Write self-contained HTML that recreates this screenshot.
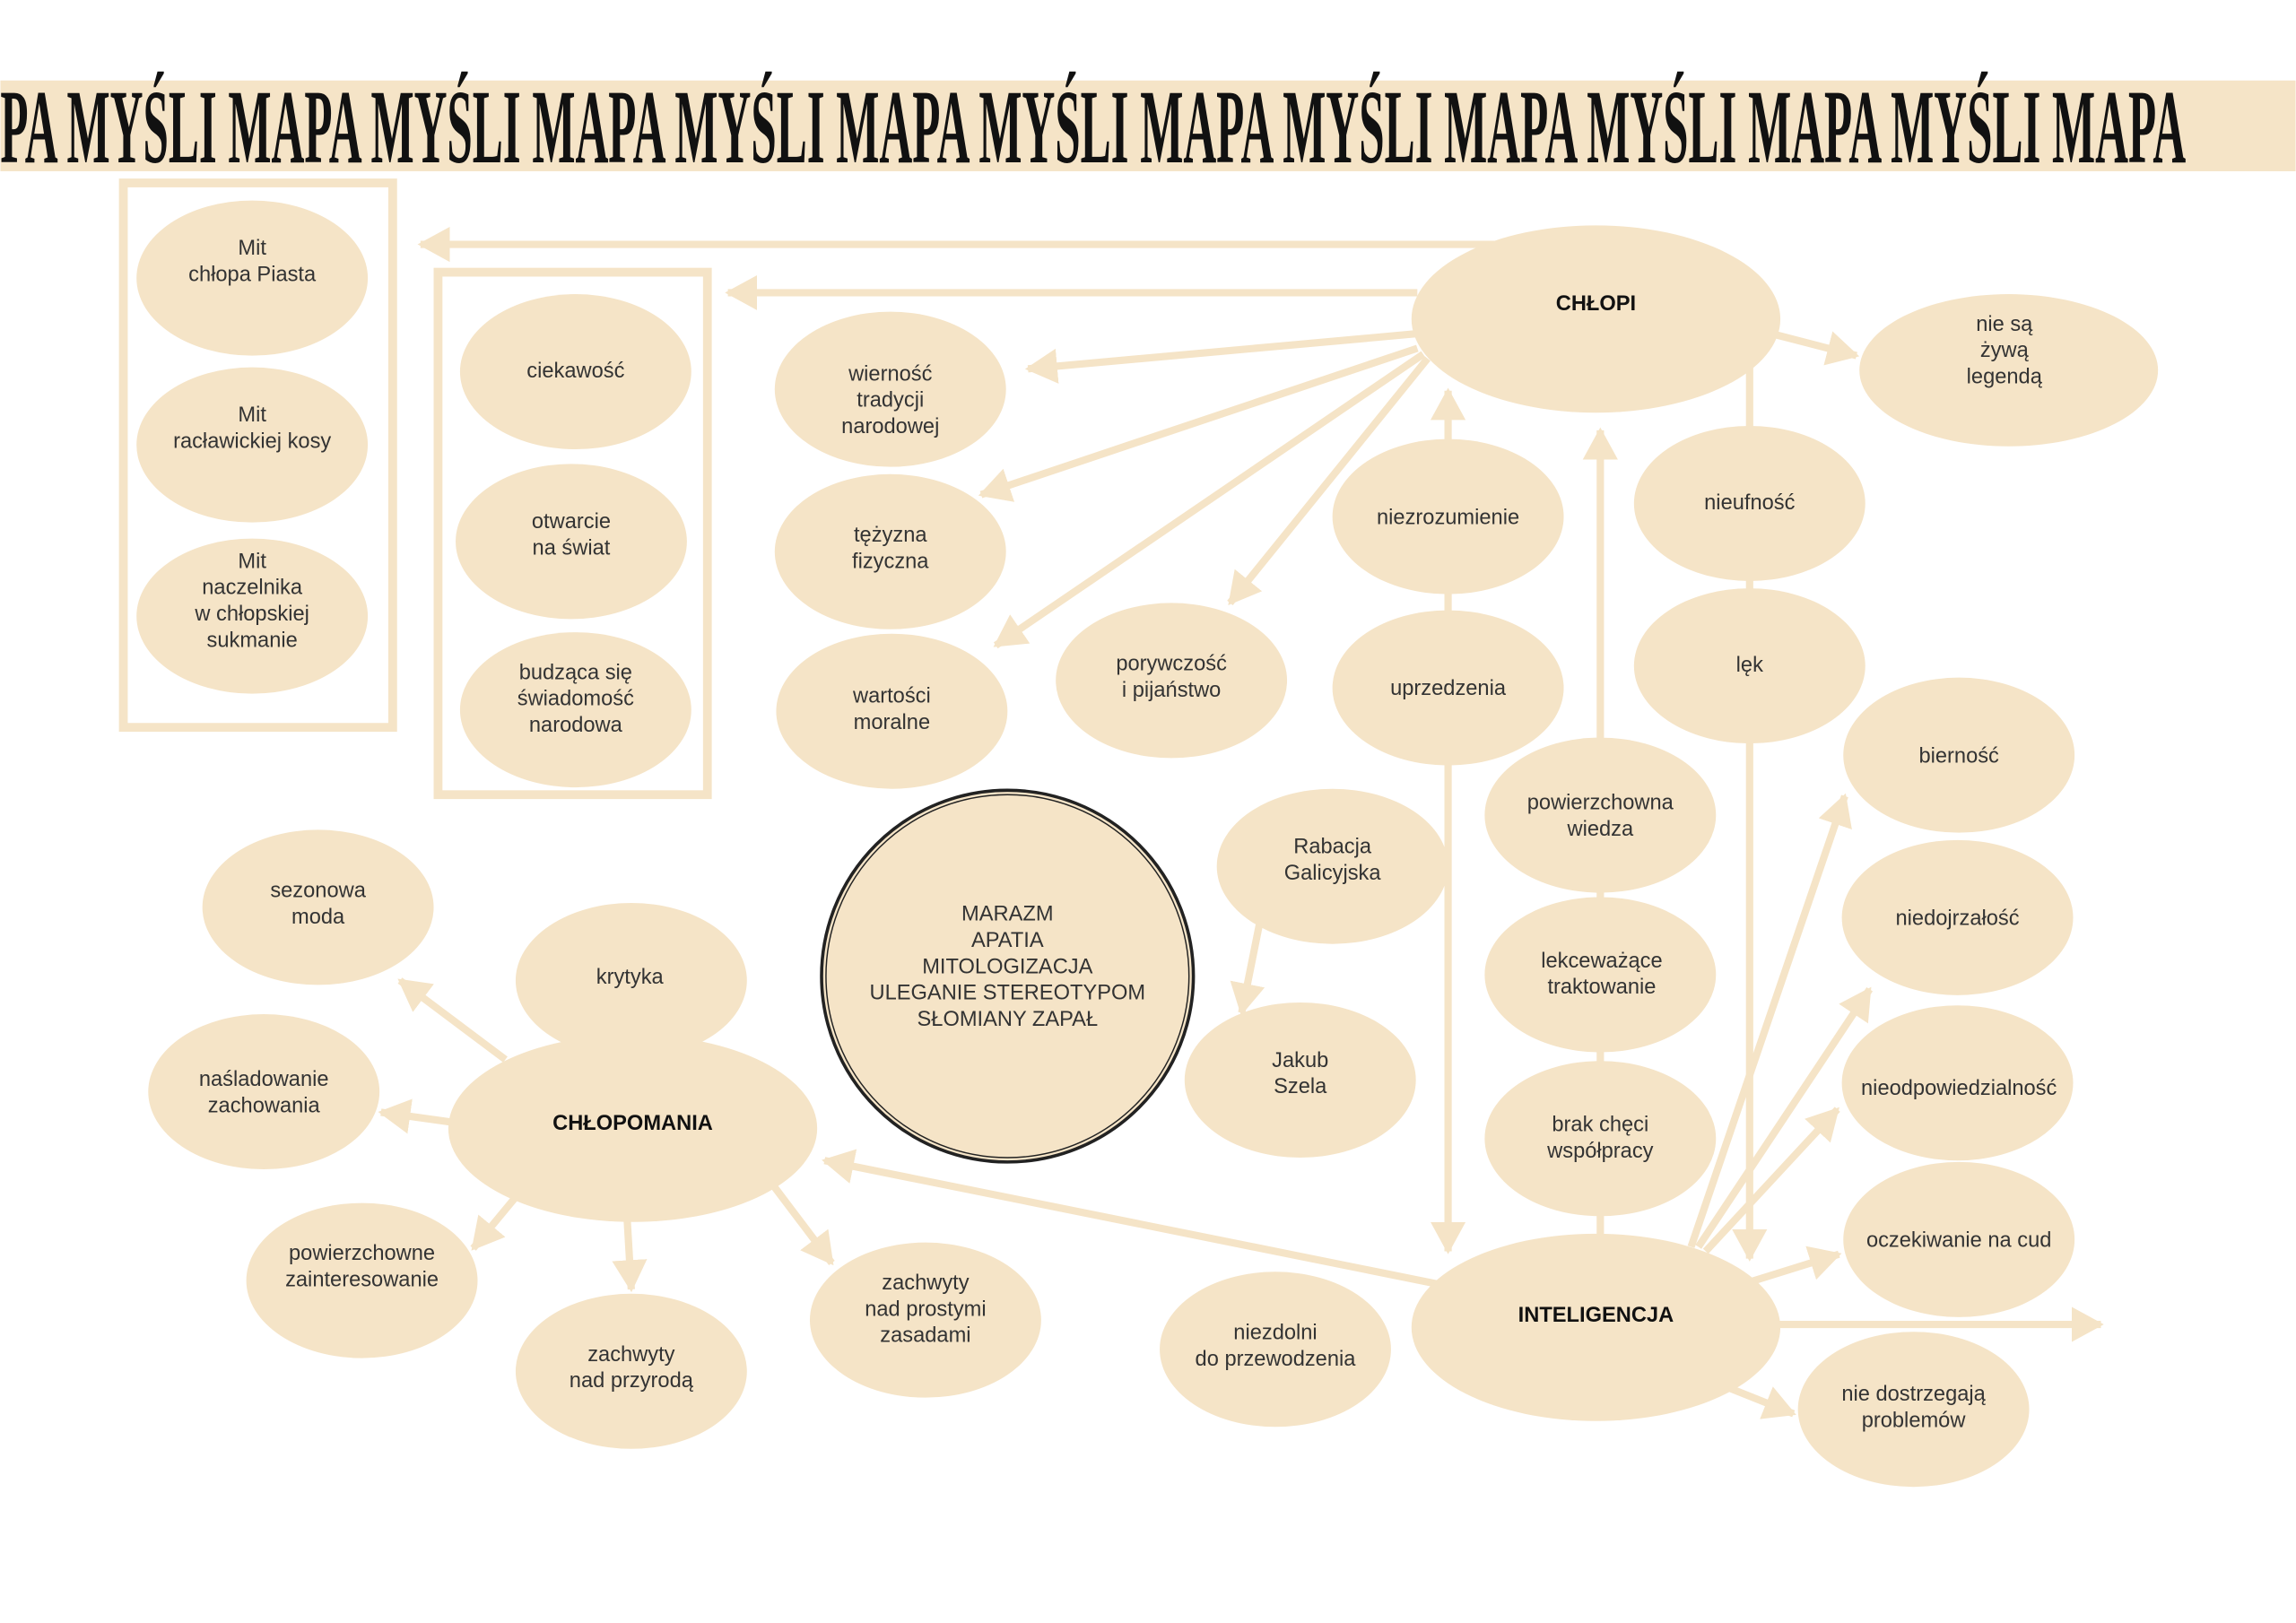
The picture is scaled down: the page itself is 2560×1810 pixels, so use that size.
<!DOCTYPE html>
<html><head><meta charset="utf-8"><style>
html,body{margin:0;padding:0;background:#fff;}
svg{display:block;}
.n{fill:#f5e4c7;}
.t{font-family:"Liberation Sans",sans-serif;font-size:14.5px;fill:#333;text-anchor:middle;}
.b{font-weight:bold;font-size:14.5px;fill:#111;}
.a{stroke:#f5e4c7;stroke-width:5;fill:none;}
</style></head><body>
<svg width="2560" height="1810" viewBox="0 0 1568 1109" xmlns="http://www.w3.org/2000/svg">
<defs>
<marker id="m" markerUnits="userSpaceOnUse" markerWidth="26" markerHeight="26" refX="20" refY="12" orient="auto">
<path d="M0,0 L22,12 L0,24 Z" fill="#f5e4c7"/>
</marker>
</defs>
<rect x="0" y="0" width="1568" height="1109" fill="#fff"/>
<rect x="0" y="55" width="1568" height="62" fill="#f5e4c7"/>
<text x="0" y="111" font-family="Liberation Serif,serif" font-weight="bold" font-size="72" fill="#111" textLength="1493" lengthAdjust="spacingAndGlyphs">PA MYŚLI MAPA MYŚLI MAPA MYŚLI MAPA MYŚLI MAPA MYŚLI MAPA MYŚLI MAPA MYŚLI MAPA</text>

<rect x="84" y="125" width="184" height="372" fill="none" stroke="#f5e4c7" stroke-width="6"/>
<rect x="299" y="186" width="184" height="357" fill="none" stroke="#f5e4c7" stroke-width="6"/>

<g class="a">
<line x1="1025" y1="167" x2="287" y2="167" marker-end="url(#m)"/>
<line x1="968" y1="200" x2="497" y2="200" marker-end="url(#m)"/>
<line x1="968" y1="228" x2="702" y2="252" marker-end="url(#m)"/>
<line x1="968" y1="238" x2="670" y2="338" marker-end="url(#m)"/>
<line x1="975" y1="245" x2="840" y2="412" marker-end="url(#m)"/>
<line x1="972" y1="242" x2="680" y2="441" marker-end="url(#m)"/>
<line x1="1210" y1="228" x2="1268" y2="243" marker-end="url(#m)"/>
<line x1="989" y1="305" x2="989" y2="267" marker-end="url(#m)"/>
<line x1="989" y1="400" x2="989" y2="420"/>
<line x1="989" y1="520" x2="989" y2="855" marker-end="url(#m)"/>
<line x1="1195" y1="250" x2="1195" y2="295"/>
<line x1="1195" y1="395" x2="1195" y2="405"/>
<line x1="1195" y1="505" x2="1195" y2="860" marker-end="url(#m)"/>
<line x1="1093" y1="510" x2="1093" y2="294" marker-end="url(#m)"/>
<line x1="1093" y1="605" x2="1093" y2="615"/>
<line x1="1093" y1="715" x2="1093" y2="728"/>
<line x1="1093" y1="830" x2="1093" y2="848"/>
<line x1="860" y1="632" x2="848" y2="692" marker-end="url(#m)"/>
<line x1="985" y1="878" x2="563" y2="793" marker-end="url(#m)"/>
<line x1="1155" y1="852" x2="1260" y2="544" marker-end="url(#m)"/>
<line x1="1160" y1="852" x2="1277" y2="676" marker-end="url(#m)"/>
<line x1="1165" y1="855" x2="1255" y2="758" marker-end="url(#m)"/>
<line x1="1195" y1="876" x2="1256" y2="857" marker-end="url(#m)"/>
<line x1="1210" y1="905" x2="1435" y2="905" marker-end="url(#m)"/>
<line x1="1180" y1="948" x2="1225" y2="966" marker-end="url(#m)"/>
<line x1="345" y1="724" x2="273" y2="670" marker-end="url(#m)"/>
<line x1="310" y1="767" x2="260" y2="760" marker-end="url(#m)"/>
<line x1="352" y1="818" x2="323" y2="853" marker-end="url(#m)"/>
<line x1="428" y1="830" x2="431" y2="881" marker-end="url(#m)"/>
<line x1="528" y1="810" x2="568" y2="863" marker-end="url(#m)"/>
</g>

<g class="n">
<ellipse cx="172" cy="190" rx="79" ry="53"/>
<ellipse cx="172" cy="304" rx="79" ry="53"/>
<ellipse cx="172" cy="421" rx="79" ry="53"/>
<ellipse cx="393" cy="254" rx="79" ry="53"/>
<ellipse cx="390" cy="370" rx="79" ry="53"/>
<ellipse cx="393" cy="485" rx="79" ry="53"/>
<ellipse cx="608" cy="266" rx="79" ry="53"/>
<ellipse cx="608" cy="377" rx="79" ry="53"/>
<ellipse cx="609" cy="486" rx="79" ry="53"/>
<ellipse cx="800" cy="465" rx="79" ry="53"/>
<ellipse cx="1090" cy="218" rx="126" ry="64"/>
<ellipse cx="1372" cy="253" rx="102" ry="52"/>
<ellipse cx="989" cy="353" rx="79" ry="53"/>
<ellipse cx="989" cy="470" rx="79" ry="53"/>
<ellipse cx="1195" cy="344" rx="79" ry="53"/>
<ellipse cx="1195" cy="455" rx="79" ry="53"/>
<ellipse cx="1093" cy="557" rx="79" ry="53"/>
<ellipse cx="1093" cy="666" rx="79" ry="53"/>
<ellipse cx="1093" cy="778" rx="79" ry="53"/>
<ellipse cx="1338" cy="516" rx="79" ry="53"/>
<ellipse cx="1337" cy="627" rx="79" ry="53"/>
<ellipse cx="1337" cy="740" rx="79" ry="53"/>
<ellipse cx="1338" cy="847" rx="79" ry="53"/>
<ellipse cx="1307" cy="963" rx="79" ry="53"/>
<ellipse cx="1090" cy="907" rx="126" ry="64"/>
<ellipse cx="871" cy="922" rx="79" ry="53"/>
<ellipse cx="910" cy="592" rx="79" ry="53"/>
<ellipse cx="888" cy="738" rx="79" ry="53"/>
<ellipse cx="217" cy="620" rx="79" ry="53"/>
<ellipse cx="431" cy="670" rx="79" ry="53"/>
<ellipse cx="180" cy="746" rx="79" ry="53"/>
<ellipse cx="247" cy="875" rx="79" ry="53"/>
<ellipse cx="431" cy="937" rx="79" ry="53"/>
<ellipse cx="632" cy="902" rx="79" ry="53"/>
</g>
<ellipse cx="432" cy="771" rx="126" ry="64" class="n"/>

<circle cx="688" cy="667" r="127" fill="#f5e4c7" stroke="#222" stroke-width="2.2"/>
<circle cx="688" cy="667" r="124" fill="none" stroke="#222" stroke-width="0.9"/>

<g class="t">
<text x="172" y="174">Mit</text><text x="172" y="192">chłopa Piasta</text>
<text x="172" y="288">Mit</text><text x="172" y="306">racławickiej kosy</text>
<text x="172" y="388">Mit</text><text x="172" y="406">naczelnika</text><text x="172" y="424">w chłopskiej</text><text x="172" y="442">sukmanie</text>
<text x="393" y="258">ciekawość</text>
<text x="390" y="361">otwarcie</text><text x="390" y="379">na świat</text>
<text x="393" y="464">budząca się</text><text x="393" y="482">świadomość</text><text x="393" y="500">narodowa</text>
<text x="608" y="260">wierność</text><text x="608" y="278">tradycji</text><text x="608" y="296">narodowej</text>
<text x="608" y="370">tężyzna</text><text x="608" y="388">fizyczna</text>
<text x="609" y="480">wartości</text><text x="609" y="498">moralne</text>
<text x="800" y="458">porywczość</text><text x="800" y="476">i pijaństwo</text>
<text x="1090" y="212" class="b">CHŁOPI</text>
<text x="1369" y="226">nie są</text><text x="1369" y="244">żywą</text><text x="1369" y="262">legendą</text>
<text x="989" y="358">niezrozumienie</text>
<text x="989" y="475">uprzedzenia</text>
<text x="1195" y="348">nieufność</text>
<text x="1195" y="459">lęk</text>
<text x="1093" y="553">powierzchowna</text><text x="1093" y="571">wiedza</text>
<text x="1094" y="661">lekceważące</text><text x="1094" y="679">traktowanie</text>
<text x="1093" y="773">brak chęci</text><text x="1093" y="791">współpracy</text>
<text x="1338" y="521">bierność</text>
<text x="1337" y="632">niedojrzałość</text>
<text x="1338" y="748">nieodpowiedzialność</text>
<text x="1338" y="852">oczekiwanie na cud</text>
<text x="1307" y="957">nie dostrzegają</text><text x="1307" y="975">problemów</text>
<text x="1090" y="903" class="b">INTELIGENCJA</text>
<text x="871" y="915">niezdolni</text><text x="871" y="933">do przewodzenia</text>
<text x="910" y="583">Rabacja</text><text x="910" y="601">Galicyjska</text>
<text x="888" y="729">Jakub</text><text x="888" y="747">Szela</text>
<text x="688" y="629">MARAZM</text>
<text x="688" y="647">APATIA</text>
<text x="688" y="665">MITOLOGIZACJA</text>
<text x="688" y="683">ULEGANIE STEREOTYPOM</text>
<text x="688" y="701">SŁOMIANY ZAPAŁ</text>
<text x="432" y="772" class="b">CHŁOPOMANIA</text>
<text x="217" y="613">sezonowa</text><text x="217" y="631">moda</text>
<text x="430" y="672">krytyka</text>
<text x="180" y="742">naśladowanie</text><text x="180" y="760">zachowania</text>
<text x="247" y="861">powierzchowne</text><text x="247" y="879">zainteresowanie</text>
<text x="431" y="930">zachwyty</text><text x="431" y="948">nad przyrodą</text>
<text x="632" y="881">zachwyty</text><text x="632" y="899">nad prostymi</text><text x="632" y="917">zasadami</text>
</g>
</svg>
</body></html>
